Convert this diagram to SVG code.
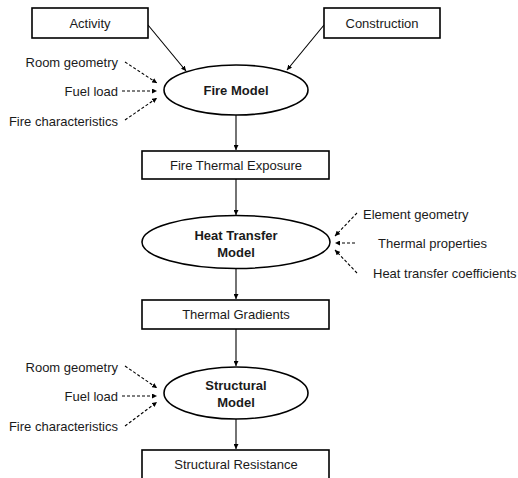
<svg xmlns="http://www.w3.org/2000/svg" width="518" height="478" viewBox="0 0 518 478">
<style>
.box{fill:#fff;stroke:#000;stroke-width:1.6}
.ell{fill:#fff;stroke:#000;stroke-width:1.6}
.t{font-family:"Liberation Sans",Arial,sans-serif;font-size:13px;fill:#1a1a1a}
.b{font-weight:bold}
.c{stroke:#000;stroke-width:1.1;fill:none;marker-end:url(#ah)}
.d{stroke:#000;stroke-width:1.1;fill:none;stroke-dasharray:3,2;marker-end:url(#ah)}
</style>
<defs>
<marker id="ah" viewBox="0 0 10 10" refX="10" refY="5" markerWidth="5" markerHeight="5" orient="auto" markerUnits="userSpaceOnUse">
<path d="M0,0 L10,5 L0,10 z" fill="#000"/>
</marker>
</defs>
<rect width="518" height="478" fill="#fff"/>
<g id="connectors">
<line class="c" x1="148" y1="25" x2="186" y2="71"/>
<line class="c" x1="324" y1="25" x2="287" y2="70"/>
<line class="c" x1="236" y1="115" x2="236" y2="150"/>
<line class="c" x1="236" y1="179" x2="236" y2="215"/>
<line class="c" x1="236" y1="269" x2="236" y2="299"/>
<line class="c" x1="236" y1="329" x2="236" y2="366"/>
<line class="c" x1="236" y1="419" x2="236" y2="449"/>
<line class="d" x1="125" y1="62" x2="157" y2="83"/>
<line class="d" x1="122" y1="91" x2="157" y2="91"/>
<line class="d" x1="125" y1="120" x2="157" y2="98"/>
<line class="d" x1="357" y1="213" x2="335" y2="236"/>
<line class="d" x1="355" y1="243" x2="335" y2="243"/>
<line class="d" x1="357" y1="273" x2="335" y2="250"/>
<line class="d" x1="125" y1="366" x2="157" y2="388"/>
<line class="d" x1="122" y1="396" x2="157" y2="396"/>
<line class="d" x1="125" y1="426" x2="157" y2="402"/>
</g>
<g id="activity">
<rect class="box" x="32" y="8" width="116" height="30"/>
<text class="t" x="90" y="27.5" text-anchor="middle">Activity</text>
</g>
<g id="construction">
<rect class="box" x="324" y="8" width="116" height="30"/>
<text class="t" x="382" y="27.5" text-anchor="middle">Construction</text>
</g>
<g id="fire-model">
<ellipse class="ell" cx="236" cy="90" rx="72" ry="25"/>
<text class="t b" x="236" y="94.5" text-anchor="middle">Fire Model</text>
</g>
<g id="fire-inputs">
<text class="t" x="118" y="66.5" text-anchor="end">Room geometry</text>
<text class="t" x="118" y="95.5" text-anchor="end">Fuel load</text>
<text class="t" x="118" y="125.5" text-anchor="end">Fire characteristics</text>
</g>
<g id="fire-thermal-exposure">
<rect class="box" x="142" y="151" width="187" height="28"/>
<text class="t" x="236" y="169.5" text-anchor="middle">Fire Thermal Exposure</text>
</g>
<g id="heat-transfer-model">
<ellipse class="ell" cx="236" cy="242" rx="94" ry="26.5"/>
<text class="t b" x="236" y="239.5" text-anchor="middle">Heat Transfer</text>
<text class="t b" x="236" y="256.5" text-anchor="middle">Model</text>
</g>
<g id="heat-inputs">
<text class="t" x="363" y="218.5">Element geometry</text>
<text class="t" x="378" y="247.5">Thermal properties</text>
<text class="t" x="373" y="277.5">Heat transfer coefficients</text>
</g>
<g id="thermal-gradients">
<rect class="box" x="142" y="300" width="187" height="29"/>
<text class="t" x="236" y="319" text-anchor="middle">Thermal Gradients</text>
</g>
<g id="structural-model">
<ellipse class="ell" cx="236" cy="393" rx="72" ry="26"/>
<text class="t b" x="236" y="390" text-anchor="middle">Structural</text>
<text class="t b" x="236" y="407" text-anchor="middle">Model</text>
</g>
<g id="structural-inputs">
<text class="t" x="118" y="371.5" text-anchor="end">Room geometry</text>
<text class="t" x="118" y="400.5" text-anchor="end">Fuel load</text>
<text class="t" x="118" y="430.5" text-anchor="end">Fire characteristics</text>
</g>
<g id="structural-resistance">
<rect class="box" x="142" y="450" width="187" height="30"/>
<text class="t" x="236" y="469" text-anchor="middle">Structural Resistance</text>
</g>
</svg>
